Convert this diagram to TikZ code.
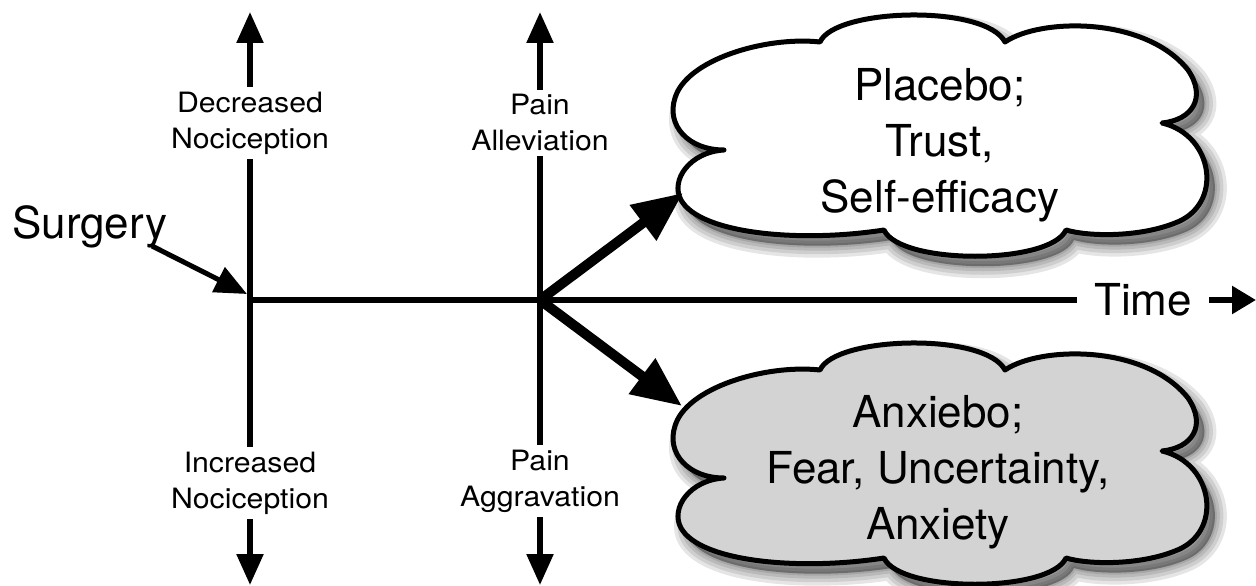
\documentclass[tikz,border=0pt]{standalone}
\usepackage{fontspec}
\setmainfont{TeX Gyre Heros}
\newfontfamily\lblfont[FakeStretch=1.08]{TeX Gyre Heros}
\usetikzlibrary{arrows.meta}
\definecolor{cloudgray}{RGB}{211,211,211}
\newcommand\cloudoutline{(724,150) .. controls (688,150) and (666,125) .. (675,98)
 .. controls (686,60) and (765,36) .. (820,42)
 .. controls (835,8) and (985,4) .. (1005,42)
 .. controls (1040,18) and (1145,16) .. (1188,70)
 .. controls (1207,98) and (1192,120) .. (1162,123)
 .. controls (1214,135) and (1224,205) .. (1175,223)
 .. controls (1140,237) and (1090,237) .. (1066,230)
 .. controls (1050,265) and (900,265) .. (884,230)
 .. controls (800,243) and (700,234) .. (681,200)
 .. controls (670,180) and (690,152) .. (724,150) -- cycle}
\begin{document}
\begin{tikzpicture}[x=1pt,y=-1pt,
  biarrow/.style={line width=5.5pt, arrows={Triangle[length=31pt,width=26pt]-Triangle[length=31pt,width=26pt]}},
  timeline/.style={line width=5.5pt, arrows={-Triangle[length=24pt,width=27pt]}},
  surgarrow/.style={line width=5pt, arrows={-Triangle[length=32pt,width=27pt]}},
  thickarrow/.style={line width=10pt, arrows={-Triangle[length=50pt,width=42pt]}},
  lbl/.style={fill=white, align=center, inner xsep=2pt, inner ysep=5pt, font=\lblfont\fontsize{28}{36}\selectfont},
  big/.style={align=center, font=\fontsize{44}{56}\selectfont},
  cloudline/.style={line width=5pt, line join=round},
  shadowlayer/.style={fill=black, draw=black, fill opacity=0.1, draw opacity=0.1, line join=round}
]
\useasboundingbox (0,0) rectangle (1256,586);

% clouds
\begin{scope}[shift={(8,10)}]
  \foreach \w in {24,17,10,4}{\path[shadowlayer, line width=\w pt] \cloudoutline;}
\end{scope}
\draw[cloudline, fill=white] \cloudoutline;
\begin{scope}[shift={(0,328)}]
  \begin{scope}[shift={(8,10)}]
    \foreach \w in {24,17,10,4}{\path[shadowlayer, line width=\w pt] \cloudoutline;}
  \end{scope}
  \draw[cloudline, fill=cloudgray] \cloudoutline;
\end{scope}

\node[big] (placebo) at (940,145) {Placebo;\\Trust,\\Self-efficacy};
\node[big] (anxiebo) at (938,472) {Anxiebo;\\Fear, Uncertainty,\\Anxiety};

% coordinates
\coordinate (o1) at (250,300);
\coordinate (o2) at (540,300);
\coordinate (t1) at (250,12);
\coordinate (b1) at (250,585);
\coordinate (t2) at (540,12);
\coordinate (b2) at (540,585);
\coordinate (tend) at (1256,300);
\coordinate (c1in) at (683,193);
\coordinate (c2in) at (682,406);
\coordinate (sstart) at (152,246);
\coordinate (stip) at (247,294);

% axes
\draw[timeline] (o1) -- (tend);
\draw[biarrow] (t1) -- (b1);
\draw[biarrow] (t2) -- (b2);

% labels
\node[lbl] (dec) at (250,123) {Decreased\\Nociception};
\node[lbl] (alle) at (540,123) {Pain\\Alleviation};
\node[lbl] (inc) at (250,483) {Increased\\Nociception};
\node[lbl] (aggr) at (540,481) {Pain\\Aggravation};
\node[big, fill=white, inner xsep=17pt, anchor=base] (time) at (1143,315) {Time};

% surgery
\node[big, anchor=base west, inner sep=0pt] (surg) at (12,238) {Surgery};
\draw[surgarrow] (sstart) -- (stip);

% branches
\draw[thickarrow] (o2) -- (c1in);
\draw[thickarrow] (o2) -- (c2in);
\end{tikzpicture}
\end{document}
